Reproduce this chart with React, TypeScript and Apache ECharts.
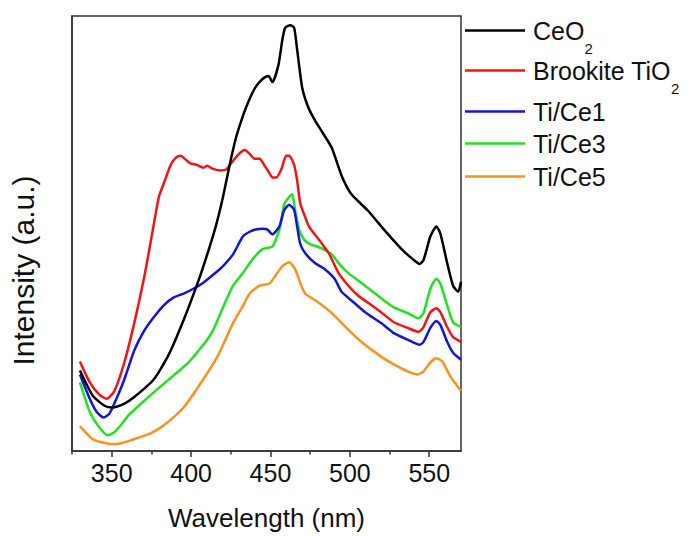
import React, { useEffect, useRef } from "react";
import * as echarts from "echarts";

// Wavelength (nm), intensity (a.u., arbitrary 0-100 scale)
const ceo2: [number, number][] = [
  [330.0, 18.5], [338.1, 12.7], [345.5, 10.4], [350.5, 10.0], [358.0, 10.9], [364.2, 12.4],
  [376.6, 16.5], [386.0, 22.2], [395.3, 30.1], [404.6, 39.1], [410.8, 45.9], [415.8, 52.0],
  [420.1, 58.4], [424.5, 66.1], [428.2, 71.9], [433.2, 77.6], [436.9, 81.0], [440.7, 83.7],
  [443.8, 85.1], [446.9, 86.0], [448.8, 86.2], [451.2, 84.8], [455.0, 88.7], [457.5, 94.6],
  [459.3, 97.3], [462.4, 97.9], [464.9, 97.3], [466.8, 92.3], [469.9, 83.7], [473.6, 79.2],
  [478.0, 76.0], [482.3, 73.5], [488.6, 69.7], [494.8, 63.3], [501.0, 59.0], [511.0, 55.4],
  [521.5, 50.9], [532.1, 46.6], [539.6, 44.1], [543.9, 43.0], [546.4, 43.9], [550.7, 49.3],
  [554.5, 51.6], [557.0, 50.0], [561.3, 43.2], [565.0, 38.0], [568.2, 36.6], [570.0, 38.9],
];

const brookite: [number, number][] = [
  [330.0, 20.6], [336.2, 15.8], [342.4, 12.9], [346.8, 12.0], [351.7, 13.8], [358.0, 20.4],
  [364.2, 29.4], [370.4, 39.8], [375.4, 49.8], [379.7, 58.4], [382.8, 61.5], [387.2, 65.8],
  [390.3, 67.4], [393.4, 67.9], [396.5, 67.0], [399.6, 66.1], [403.4, 65.8], [407.7, 65.1],
  [410.2, 65.6], [413.3, 64.9], [418.3, 64.5], [422.0, 64.7], [426.4, 66.7], [430.7, 68.5],
  [433.8, 69.2], [436.9, 68.3], [440.0, 67.2], [443.2, 67.2], [446.3, 65.6], [448.8, 64.2],
  [451.2, 62.9], [453.7, 62.9], [456.8, 64.7], [459.9, 67.9], [461.8, 67.9], [464.9, 65.8],
  [466.8, 62.2], [468.7, 57.0], [471.1, 54.5], [474.3, 51.6], [480.5, 48.6], [486.7, 45.5],
  [492.9, 40.9], [499.1, 38.0], [505.3, 35.7], [512.2, 33.9], [519.7, 31.9], [527.7, 29.6],
  [536.4, 28.3], [543.3, 27.4], [546.4, 28.5], [550.7, 31.9], [554.5, 32.8], [557.0, 31.9],
  [561.3, 28.5], [565.0, 26.2], [570.0, 25.1],
];

const tiCe1: [number, number][] = [
  [330.0, 17.6], [336.2, 12.0], [340.5, 9.0], [344.9, 7.7], [348.6, 8.6], [353.0, 12.0],
  [358.0, 16.5], [364.2, 23.1], [370.4, 27.6], [376.6, 30.8], [382.8, 33.5], [389.1, 35.3],
  [395.3, 36.2], [401.5, 37.3], [407.7, 38.7], [413.9, 40.5], [420.1, 42.5], [426.4, 45.2],
  [432.6, 49.3], [436.9, 50.4], [440.7, 50.9], [445.0, 51.1], [448.1, 50.9], [451.2, 49.8],
  [455.6, 51.6], [458.7, 55.4], [461.8, 56.6], [464.9, 55.4], [466.8, 51.6], [468.7, 47.7],
  [471.8, 45.5], [478.0, 43.2], [484.2, 41.8], [490.4, 39.6], [494.8, 36.6], [501.0, 34.6],
  [510.3, 31.7], [519.7, 29.4], [527.7, 27.1], [536.4, 25.6], [543.9, 24.4], [546.4, 25.1],
  [550.7, 28.3], [554.5, 29.9], [557.0, 29.0], [561.3, 25.1], [565.0, 22.6], [570.0, 21.0],
];

const tiCe3: [number, number][] = [
  [330.0, 15.8], [336.2, 9.0], [341.2, 5.9], [347.4, 3.6], [351.7, 4.3], [356.1, 6.1],
  [361.1, 8.4], [370.4, 11.5], [379.7, 14.5], [389.1, 17.4], [398.4, 20.4], [407.7, 24.4],
  [413.9, 27.8], [420.1, 33.0], [426.4, 38.0], [432.6, 40.9], [438.8, 44.1], [445.0, 46.4],
  [451.2, 47.0], [455.6, 50.9], [458.7, 56.8], [461.8, 58.4], [463.7, 59.0], [465.5, 55.4],
  [468.0, 50.9], [471.1, 48.6], [474.3, 47.7], [482.3, 46.6], [488.6, 45.2], [492.9, 43.2],
  [499.1, 40.9], [507.2, 38.7], [515.3, 36.4], [519.7, 35.1], [527.7, 33.0], [536.4, 31.7],
  [543.3, 30.5], [546.4, 31.7], [550.7, 37.3], [554.5, 39.6], [557.0, 38.5], [561.3, 33.5],
  [565.0, 29.6], [570.0, 28.5],
];

const tiCe5: [number, number][] = [
  [330.0, 5.7], [337.4, 2.9], [343.7, 2.0], [349.9, 1.6], [356.1, 1.8], [362.3, 2.5],
  [374.7, 4.1], [382.8, 5.9], [395.3, 10.0], [407.7, 16.5], [417.0, 22.0], [426.4, 29.4],
  [432.6, 33.3], [436.9, 36.2], [443.2, 38.0], [449.4, 38.5], [453.1, 40.3], [457.5, 42.5],
  [461.8, 43.4], [465.5, 41.8], [468.7, 38.7], [471.8, 36.2], [479.2, 34.4], [488.6, 31.7],
  [497.9, 28.3], [507.2, 25.1], [519.7, 21.7], [527.7, 19.9], [536.4, 18.3], [542.6, 17.6],
  [546.4, 18.3], [550.7, 20.4], [554.5, 21.3], [558.2, 20.6], [563.2, 17.2], [570.0, 13.8],
];

const seriesNames = ["CeO2", "Brookite TiO2", "Ti/Ce1", "Ti/Ce3", "Ti/Ce5"];
const seriesData = [ceo2, brookite, tiCe1, tiCe3, tiCe5];
const seriesColors = ["#000000", "#f01414", "#1414d6", "#22e022", "#f7931e"];
const majorTicks = [350, 400, 450, 500, 550];
const minorTicks = [325, 375, 425, 475, 525];

const FONT = "'Liberation Sans', Arial, Helvetica, sans-serif";

export default function App() {
  const ref = useRef<HTMLDivElement>(null);

  useEffect(() => {
    document.body.style.margin = "0";
    if (!ref.current) return;
    const chart = echarts.init(ref.current, undefined, { renderer: "svg" });

    const legendCenters = [30, 70, 111, 143, 176];
    const legends = seriesNames.map((name, i) => ({
      data: [name],
      left: 465,
      top: legendCenters[i] - 12,
      padding: 0,
      icon: "rect",
      itemWidth: 60,
      itemHeight: 2.5,
      selectedMode: false,
      formatter: (n: string) =>
        n.endsWith("O2") ? `{a|${n.slice(0, -1)}}{s|2}` : `{a|${n}}`,
      textStyle: {
        rich: {
          a: {
            fontFamily: FONT,
            fontSize: 25,
            lineHeight: 50,
            color: "#111",
            verticalAlign: "middle",
            padding: [0, 0, 0, 3],
          },
          s: {
            fontFamily: FONT,
            fontSize: 15,
            lineHeight: 36,
            color: "#111",
            verticalAlign: "bottom",
          },
        },
      },
    }));

    chart.setOption({
      animation: false,
      backgroundColor: "#ffffff",
      grid: {
        left: 67,
        right: 229,
        top: 16,
        bottom: 78,
        show: true,
        borderColor: "#333",
        borderWidth: 1.5,
        backgroundColor: "transparent",
      },
      legend: legends,
      xAxis: [
        {
          type: "value",
          min: 325,
          max: 570,
          position: "bottom",
          axisLine: { show: true, onZero: false, lineStyle: { color: "#333", width: 1.5 } },
          axisTick: {
            show: true,
            customValues: majorTicks,
            length: 6,
            lineStyle: { color: "#333", width: 1.5 },
          },
          axisLabel: {
            customValues: majorTicks,
            fontSize: 25,
            fontFamily: FONT,
            color: "#111",
            margin: 9,
          },
          splitLine: { show: false },
          name: "Wavelength (nm)",
          nameLocation: "middle",
          nameGap: 54,
          nameTextStyle: { fontSize: 26, fontFamily: FONT, color: "#111" },
        },
        {
          type: "value",
          min: 325,
          max: 570,
          position: "bottom",
          axisLine: { show: false, onZero: false },
          axisTick: {
            show: true,
            customValues: minorTicks,
            length: 3.5,
            lineStyle: { color: "#333", width: 1.5 },
          },
          axisLabel: { show: false },
          splitLine: { show: false },
        },
      ],
      yAxis: {
        type: "value",
        min: 0,
        max: 100,
        axisLine: { show: true, lineStyle: { color: "#333", width: 1.5 } },
        axisTick: { show: false },
        axisLabel: { show: false },
        splitLine: { show: false },
        name: "Intensity (a.u.)",
        nameLocation: "middle",
        nameGap: 34,
        nameTextStyle: {
          fontSize: 30,
          fontFamily: FONT,
          color: "#111",
          padding: [0, 74, 0, 0],
        },
      },
      series: seriesNames.map((name, i) => ({
        name,
        type: "line",
        xAxisIndex: 0,
        data: seriesData[i],
        symbol: "none",
        smooth: 0.2,
        color: seriesColors[i],
        lineStyle: { color: seriesColors[i], width: 2.5 },
        z: 10 - i,
      })),
    });

    return () => chart.dispose();
  }, []);

  return <div ref={ref} style={{ width: 690, height: 536 }} />;
}
